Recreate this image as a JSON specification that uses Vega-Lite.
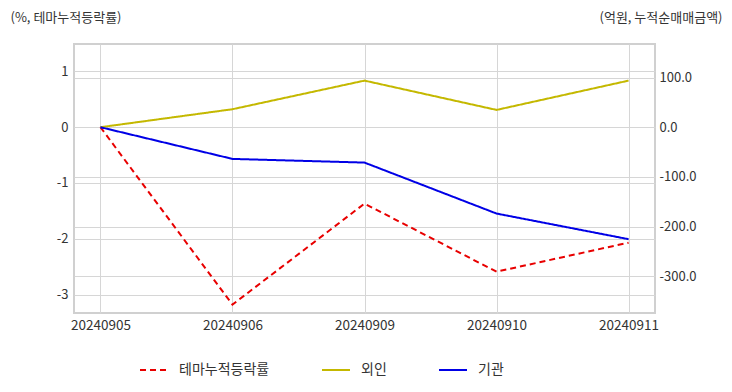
{
  "$schema": "https://vega.github.io/schema/vega-lite/v6.json",
  "width": 581,
  "height": 269,
  "autosize": {"type": "none"},
  "padding": {"left": 74, "top": 44, "right": 77, "bottom": 79},
  "background": "white",
  "config": {
    "font": "Noto Sans CJK KR",
    "view": {"stroke": "#d0d0d0", "strokeWidth": 2},
    "axis": {
      "labelFont": "Noto Sans CJK KR",
      "labelFontSize": 13,
      "labelColor": "#333333",
      "gridColor": "#d6d6d6",
      "gridWidth": 1,
      "domain": false,
      "ticks": false,
      "titleFont": "Noto Sans CJK KR",
      "titleFontSize": 13,
      "titleFontWeight": "normal",
      "titleColor": "#333333"
    },
    "legend": {
      "labelFont": "Noto Sans CJK KR",
      "labelFontSize": 14,
      "labelColor": "#333333"
    }
  },
  "data": {
    "values": [
      {"date": "20240905", "series": "테마누적등락률", "value": 0},
      {"date": "20240906", "series": "테마누적등락률", "value": -3.18},
      {"date": "20240909", "series": "테마누적등락률", "value": -1.37},
      {"date": "20240910", "series": "테마누적등락률", "value": -2.59},
      {"date": "20240911", "series": "테마누적등락률", "value": -2.07},
      {"date": "20240905", "series": "외인", "value": 0},
      {"date": "20240906", "series": "외인", "value": 36.2},
      {"date": "20240909", "series": "외인", "value": 93.8},
      {"date": "20240910", "series": "외인", "value": 34.8},
      {"date": "20240911", "series": "외인", "value": 93.8},
      {"date": "20240905", "series": "기관", "value": 0},
      {"date": "20240906", "series": "기관", "value": -63.8},
      {"date": "20240909", "series": "기관", "value": -71.2},
      {"date": "20240910", "series": "기관", "value": -173.8},
      {"date": "20240911", "series": "기관", "value": -225.4}
    ]
  },
  "encoding": {
    "x": {
      "field": "date",
      "type": "ordinal",
      "scale": {"type": "point", "padding": 0.2},
      "axis": {"title": null, "labelAngle": 0, "labelPadding": 5, "labelFontSize": 13.5, "grid": true}
    },
    "color": {
      "field": "series",
      "type": "nominal",
      "scale": {"domain": ["테마누적등락률", "외인", "기관"], "range": ["#e80000", "#c4b800", "#0000e6"]},
      "legend": {
        "title": null,
        "orient": "none",
        "legendX": 65,
        "legendY": 311,
        "direction": "horizontal",
        "symbolType": "stroke",
        "symbolSize": 784,
        "symbolStrokeWidth": 2,
        "labelOffset": 10,
        "columnPadding": 48
      }
    },
    "strokeDash": {
      "field": "series",
      "type": "nominal",
      "scale": {"domain": ["테마누적등락률", "외인", "기관"], "range": [[6, 4], [1, 0], [1, 0]]},
      "legend": null
    }
  },
  "layer": [
    {
      "transform": [{"filter": "datum.series === '테마누적등락률'"}],
      "mark": {"type": "line", "strokeWidth": 2},
      "encoding": {
        "y": {
          "field": "value",
          "type": "quantitative",
          "scale": {"domain": [-3.33, 1.49], "nice": false, "zero": false},
          "axis": {
            "orient": "left",
            "values": [1, 0, -1, -2, -3],
            "labelExpr": "replace(datum.label, '−', '-')",
            "grid": true,
            "labelPadding": 6,
            "title": "(%, 테마누적등락률)",
            "titleAngle": 0,
            "titleX": -64,
            "titleY": -27,
            "titleAlign": "left",
            "titleBaseline": "middle"
          }
        }
      }
    },
    {
      "transform": [{"filter": "datum.series !== '테마누적등락률'"}],
      "mark": {"type": "line", "strokeWidth": 2},
      "encoding": {
        "y": {
          "field": "value",
          "type": "quantitative",
          "scale": {"domain": [-374, 167.5], "nice": false, "zero": false},
          "axis": {
            "orient": "right",
            "values": [100, 0, -100, -200, -300],
            "format": ".1f",
            "labelExpr": "replace(datum.label, '−', '-')",
            "grid": true,
            "labelPadding": 4,
            "title": "(억원, 누적순매매금액)",
            "titleAngle": 0,
            "titleX": 67,
            "titleY": -27,
            "titleAlign": "right",
            "titleBaseline": "middle"
          }
        }
      }
    }
  ],
  "resolve": {"scale": {"y": "independent"}}
}
